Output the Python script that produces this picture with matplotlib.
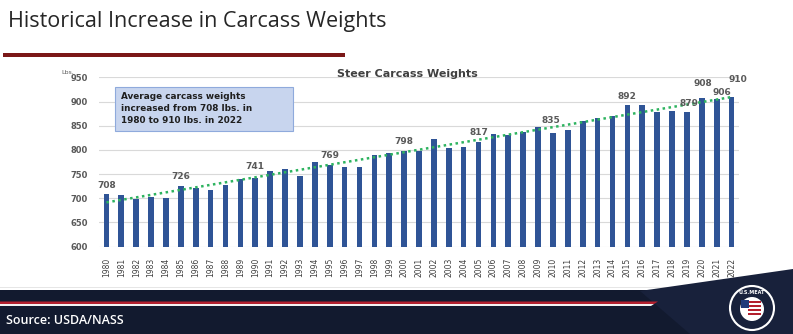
import numpy as np
import matplotlib.pyplot as plt
from matplotlib.patches import Rectangle, Polygon, Circle, FancyBboxPatch

W, H = 793, 334

years = list(range(1980, 2023))
weights = [708, 707, 698, 702, 700, 726, 722, 717, 728, 740,
           741, 757, 760, 746, 776, 769, 765, 764, 789, 794,
           798, 797, 823, 803, 805, 817, 833, 830, 837, 847,
           835, 841, 859, 865, 871, 892, 892, 878, 881, 879,
           908, 906, 910]
labelled_years = [1980, 1985, 1990, 1995, 2000, 2005, 2010,
                  2015, 2019, 2020, 2021, 2022]
y_ticks = [600, 650, 700, 750, 800, 850, 900, 950]

title = "Historical Increase in Carcass Weights"
chart_title = "Steer Carcass Weights"
note = "Average carcass weights\nincreased from 708 lbs. in\n1980 to 910 lbs. in 2022"
source = "Source: USDA/NASS"

# label nudges in pixels (dx, dy above bar top)
label_nudge = {1990: (0, 12), 2010: (-2, 12), 2019: (2, 8),
               2020: (1, 14), 2021: (5, 6), 2022: (6, 17)}

fig = plt.figure(figsize=(W / 100, H / 100), dpi=100)
fig.patch.set_facecolor("white")

# background layer in pixel coords
bg = fig.add_axes([0, 0, 1, 1], zorder=-1)
bg.set_xlim(0, W)
bg.set_ylim(H, 0)
bg.axis("off")

bg.text(8, 21, title, va="center", ha="left", fontsize=15.5,
        color="#262626", family=["Open Sans", "DejaVu Sans"])
bg.add_patch(Rectangle((3, 53), 342, 3.5, color="#7B1818", lw=0))

# footer
bg.add_patch(Rectangle((0, 287), W, 1, color="#E6E6E6", lw=0))
bg.add_patch(Rectangle((0, 290), W, 44, color="#121A2F", lw=0))
bg.add_patch(Polygon([(640, 291), (W, 269), (W, 334), (690, 334)],
                     closed=True, color="#18213B", lw=0))
bg.add_patch(Polygon([(0, 301.5), (658, 301.5), (654, 304), (0, 304)],
                     closed=True, color="#B3202E", lw=0))
bg.add_patch(Polygon([(0, 304), (654, 304), (651, 306), (0, 306)],
                     closed=True, color="#F2F2F2", lw=0))
bg.text(6, 321, source, va="center", ha="left", fontsize=9,
        color="white", fontweight="semibold",
        family=["Open Sans", "DejaVu Sans"])

# logo
bg.add_patch(Circle((752, 308), 22, facecolor="#18213B",
                    edgecolor="white", lw=1.5))
bg.add_patch(Circle((752, 309), 12, facecolor="white", lw=0))
for k in range(4):
    bg.add_patch(Rectangle((748, 301 + k * 4), 13, 2, color="#B3202E", lw=0))
bg.add_patch(Rectangle((741, 300), 8, 8, color="#1F3A7A", lw=0))
bg.text(752, 292, "U.S.MEAT", ha="center", va="center", fontsize=3.5,
        color="white", fontweight="bold")

# chart
x0, x1, ytop, ybot = 99, 739, 77.3, 246.7
ax = fig.add_axes([x0 / W, (H - ybot) / H, (x1 - x0) / W, (ybot - ytop) / H])
ax.set_facecolor("none")

pos = np.arange(len(years))
ax.bar(pos, weights, width=0.38, color="#2F5496", zorder=3)

slope, inter = np.polyfit(pos, weights, 1)
ax.plot(pos, slope * pos + inter, color="#2DB35F", lw=1.8,
        linestyle=(0, (1, 1.4)), zorder=4)

ax.set_xlim(-0.5, len(years) - 0.5)
ax.set_ylim(600, 950)
ax.set_yticks(y_ticks)
ax.set_xticks(pos)
ax.set_xticklabels([str(y) for y in years], rotation=90,
                   fontsize=5.5, color="#404040",
                   family=["Liberation Sans Narrow", "DejaVu Sans"])
ax.tick_params(axis="x", length=0, pad=8)
ax.tick_params(axis="y", length=0, pad=8, labelsize=6,
               labelcolor="#595959")
for t in ax.get_yticklabels():
    t.set_fontweight("bold")
ax.grid(axis="y", color="#D9D9D9", lw=0.8, zorder=0)
for s in ax.spines.values():
    s.set_visible(False)

for yr in labelled_years:
    i = years.index(yr)
    dx, dy = label_nudge.get(yr, (0, 9))
    ax.annotate(str(weights[i]), (i, weights[i]),
                xytext=(dx * 0.72, dy * 0.72), textcoords="offset points",
                ha="center", va="center", fontsize=6.5, fontweight="bold",
                color="#595959", zorder=5)

# foreground layer in pixel coords
fg = fig.add_axes([0, 0, 1, 1], zorder=5)
fg.set_xlim(0, W)
fg.set_ylim(H, 0)
fg.axis("off")
fg.patch.set_alpha(0)

fg.text(407, 74, chart_title, ha="center", va="center", fontsize=8,
        fontweight="bold", color="#404040")
fg.text(61, 72, "Lbs.", ha="left", va="center", fontsize=4.5,
        color="#595959")
fg.add_patch(FancyBboxPatch((115, 87), 178, 44, boxstyle="square,pad=0",
                            facecolor="#C8D5EE", edgecolor="#8FAADC", lw=0.8))
fg.text(121, 108.5, note, ha="left", va="center", fontsize=6.4,
        fontweight="bold", color="#1F1F1F", linespacing=1.45)

fig.savefig("out.png", dpi=100)
